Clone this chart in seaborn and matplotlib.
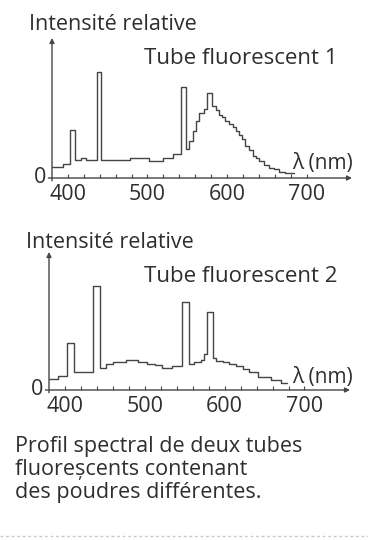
import matplotlib
matplotlib.use("Agg")
import matplotlib.pyplot as plt
import seaborn as sns
import pandas as pd

# ---- data ----
edges1 = [380, 394, 402.5, 409, 417, 423, 436, 441, 477.5, 502.5, 519, 532, 542, 548,
          552.5, 557, 561, 565, 571, 575, 581, 586, 590, 594, 598, 602.5, 607, 611, 615,
          619, 623, 627.5, 632, 636, 640, 646, 652.5, 659, 665, 673, 684]
levels1 = [6, 8, 33, 11, 12, 11, 75, 11, 12, 10, 12, 15, 64, 19, 25, 32, 39, 45, 48, 60,
           50, 47, 44, 42, 39, 37, 35, 32, 29, 26, 21, 18, 14, 12, 10, 7, 5, 4, 2, 1]

edges2 = [380, 390.7, 403, 411, 435, 443.4, 452, 460, 477, 492, 502.5, 513, 521.5, 534,
          546, 555, 561.6, 570, 574, 578.5, 585, 589, 597.5, 606, 614, 623, 631, 642,
          658.6, 671, 677.6]
levels2 = [5.5, 8, 32, 11, 74, 14, 17, 18, 20, 18.5, 17, 16, 14, 15, 62, 17, 18, 20, 24,
           55, 21, 19, 18, 17, 15, 13, 11, 7, 5, 2.5]

major_ticks = [400, 500, 600, 700]
minor_ticks = list(range(400, 701, 20))
titles = ["Tube fluorescent 1", "Tube fluorescent 2"]
ylabel = "Intensité relative"
xlabel = "λ (nm)"
caption = "Profil spectral de deux tubes\nfluoreșcents contenant\ndes poudres différentes."

sns.set_theme(style="white")
plt.rcParams["font.family"] = ["Open Sans", "DejaVu Sans"]

W, H = 368, 540
fig = plt.figure(figsize=(W / 100, H / 100), dpi=100)
fig.patch.set_facecolor("white")

txt = "#2e2e2e"
linec = "#454545"

panels = [
    dict(edges=edges1, levels=levels1, box=(52, 352, 38, 178), ylim=(-2.4, 100),
         title=titles[0], ttl_y=59, ylab_x=29, ylab_y=25, xl_y=164),
    dict(edges=edges2, levels=levels2, box=(49, 350, 252, 390), ylim=(-2.4, 99),
         title=titles[1], ttl_y=277, ylab_x=26, ylab_y=242, xl_y=378),
]

for p in panels:
    l, r, t, b = p["box"]
    ax = fig.add_axes([l / W, 1 - b / H, (r - l) / W, (b - t) / H])
    ax.set_facecolor("none")
    df = pd.DataFrame({"lam": p["edges"], "I": p["levels"] + [p["levels"][-1]]})
    sns.lineplot(data=df, x="lam", y="I", drawstyle="steps-post", estimator=None,
                 sort=False, color=linec, lw=1.0, ax=ax)
    ax.set_xlim(380, 757)
    ax.set_ylim(*p["ylim"])
    for s in ax.spines.values():
        s.set_visible(False)
    ax.annotate("", xy=(1.0, 0), xytext=(-0.012, 0), xycoords="axes fraction",
                arrowprops=dict(arrowstyle="-|>", lw=1.0, color=linec,
                                mutation_scale=7, shrinkA=0, shrinkB=0))
    ax.annotate("", xy=(0, 1.0), xytext=(0, -0.02), xycoords="axes fraction",
                arrowprops=dict(arrowstyle="-|>", lw=1.0, color=linec,
                                mutation_scale=7, shrinkA=0, shrinkB=0))
    ax.set_xticks(major_ticks)
    ax.set_xticklabels([str(v) for v in major_ticks])
    ax.set_xticks(minor_ticks, minor=True)
    ax.tick_params(axis="x", which="both", direction="in", length=3, width=0.8,
                   color=linec, bottom=True, pad=4, labelsize=15.5, labelcolor=txt)
    ax.set_yticks([0])
    ax.set_yticklabels(["0"])
    ax.tick_params(axis="y", length=0, pad=4, labelsize=15.5, labelcolor=txt)
    ax.set_xlabel("")
    ax.set_ylabel("")
    fig.text(p["ylab_x"] / W, 1 - p["ylab_y"] / H, ylabel, fontsize=15.5, color=txt,
             ha="left", va="center")
    fig.text(337 / W, 1 - p["ttl_y"] / H, p["title"], fontsize=16, color=txt,
             ha="right", va="center")
    fig.text(353 / W, 1 - p["xl_y"] / H, xlabel, fontsize=15, color=txt,
             ha="right", va="center")

fig.text(15 / W, 1 - 436 / H, caption, fontsize=15.5, color=txt, ha="left", va="top",
         linespacing=1.12)
fig.add_artist(plt.Line2D([0.0, 1.0], [1 - 536 / H, 1 - 536 / H], color="#c8c8c8",
                          lw=1, ls=(0, (2, 2))))

fig.savefig("out.png", dpi=100, facecolor="white")
